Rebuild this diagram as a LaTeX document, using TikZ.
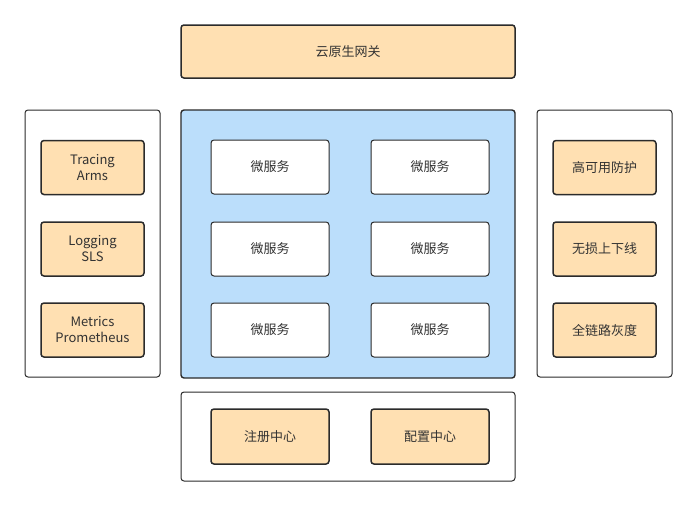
\documentclass[tikz,border=0pt]{standalone}
\usepackage{fontspec}
\setmainfont{Noto Sans CJK SC}
\usepackage{xcolor}
\usetikzlibrary{positioning}
\definecolor{boxorange}{HTML}{FFE0B2}
\definecolor{panelblue}{HTML}{BBDEFB}
\definecolor{edgegray}{HTML}{2B2B2B}
\definecolor{txtgray}{HTML}{333333}
\tikzset{
  box/.style={draw=edgegray,rounded corners=3pt,align=center,
              font=\fontsize{13}{16}\selectfont,text=txtgray,line width=1.5pt},
  obox/.style={box,fill=boxorange},
  wbox/.style={box,fill=white,line width=1pt,minimum width=118pt,minimum height=54pt},
  sbox/.style={obox,minimum width=103pt,minimum height=54pt},
  panel/.style={draw=edgegray,rounded corners=3pt,fill=white,line width=1pt},
  bpanel/.style={panel,fill=panelblue,line width=1.4pt},
}

\begin{document}
\begin{tikzpicture}[x=1pt,y=-1pt]
\useasboundingbox[fill=white] (0,0) rectangle (697,506);
% top gateway
\node[obox,minimum width=334pt,minimum height=53pt] (gw) at (348,51.5) {云原生网关};
% panels
\node[panel,minimum width=135pt,minimum height=267pt] (lpan) at (92.5,243.5) {};
\node[bpanel,minimum width=334pt,minimum height=268pt] (cpan) at (348,244) {};
\node[panel,minimum width=135pt,minimum height=267pt] (rpan) at (604.5,243.5) {};
\node[panel,minimum width=334pt,minimum height=89pt] (bpan) at (348,436.5) {};
% observability
\node[sbox] (trace) at (92.5,167.5) {Tracing\\Arms};
\node[sbox] (logs) at (92.5,249) {Logging\\SLS};
\node[sbox] (metric) at (92.5,330) {Metrics\\Prometheus};
% microservices
\foreach \r/\y in {1/167,2/249,3/330}{
  \node[wbox] (ms\r a) at (270,\y) {微服务};
  \node[wbox] (ms\r b) at (430,\y) {微服务};
}
% governance
\node[sbox] (ha) at (604.5,167.5) {高可用防护};
\node[sbox] (lossless) at (604.5,249) {无损上下线};
\node[sbox] (gray) at (604.5,330) {全链路灰度};
% registry / config
\node[obox,minimum width=118pt,minimum height=55pt] (reg) at (270,436.5) {注册中心};
\node[obox,minimum width=118pt,minimum height=55pt] (cfg) at (430,436.5) {配置中心};
\end{tikzpicture}
\end{document}
